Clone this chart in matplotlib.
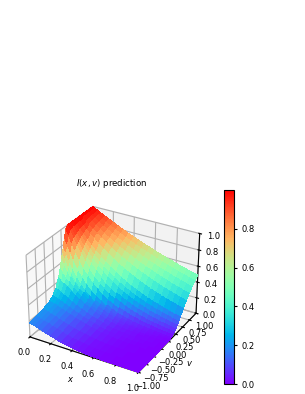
import numpy as np
import matplotlib
matplotlib.use('Agg')
import matplotlib.pyplot as plt

# values, grid is finer where the surface is steep
x = [0, .02, .05, .08, .12, .16, .2, .25, .3, .35, .4, .45, .5, .55, .6, .65, .7, .75, .8, .85, .9, .95, 1]
v = [-1, -.8, -.6, -.4, -.3, -.2, -.1, -.05, 0, .03, .06, .1, .15, .2, .25,
     .3, .35, .4, .5, .6, .7, .8, .9, 1]
I = [
    [.18, .175, .165, .15, .13, .115, .10, .08, .06, .045, .035, .025, .018, .012, .008, .006, .004, .003, .002, .001, .001, 0, 0],
    [.19, .185, .175, .16, .145, .125, .11, .09, .07, .055, .045, .033, .022, .016, .012, .009, .006, .004, .003, .002, .001, .001, 0],
    [.21, .205, .195, .18, .165, .145, .125, .105, .085, .07, .055, .044, .03, .024, .017, .013, .01, .007, .005, .003, .002, .001, 0],
    [.24, .235, .225, .21, .19, .17, .15, .125, .105, .085, .07, .055, .04, .032, .025, .019, .015, .011, .008, .006, .004, .002, .001],
    [.28, .27, .255, .24, .215, .19, .17, .145, .12, .10, .08, .06, .045, .036, .028, .022, .017, .013, .01, .007, .005, .003, .002],
    [.34, .325, .30, .28, .25, .22, .195, .165, .14, .115, .095, .075, .055, .043, .033, .026, .02, .015, .012, .009, .006, .004, .002],
    [.46, .43, .39, .355, .31, .27, .235, .195, .165, .135, .11, .085, .065, .052, .04, .032, .026, .02, .015, .011, .008, .005, .003],
    [.56, .52, .46, .41, .35, .30, .255, .21, .175, .145, .12, .095, .075, .06, .048, .038, .03, .024, .018, .012, .008, .006, .004],
    [.66, .60, .52, .46, .38, .32, .27, .23, .195, .165, .14, .11, .085, .07, .055, .045, .038, .03, .022, .016, .012, .008, .005],
    [.72, .66, .57, .50, .41, .345, .285, .235, .20, .175, .15, .12, .095, .075, .06, .05, .042, .034, .026, .02, .015, .01, .008],
    [.78, .72, .63, .55, .46, .385, .325, .26, .21, .18, .16, .13, .10, .08, .065, .055, .046, .038, .03, .024, .018, .013, .01],
    [.88, .81, .72, .64, .54, .46, .39, .32, .265, .215, .18, .145, .115, .095, .075, .062, .05, .042, .034, .028, .022, .016, .012],
    [.97, .905, .815, .735, .64, .555, .483, .405, .34, .285, .24, .20, .168, .14, .118, .10, .083, .07, .059, .048, .04, .034, .03],
    [1, .94, .858, .783, .693, .613, .542, .465, .399, .343, .294, .252, .217, .186, .159, .136, .117, .10, .086, .074, .064, .055, .047],
    [1, .948, .875, .81, .726, .652, .586, .512, .449, .393, .344, .30, .263, .23, .201, .176, .154, .135, .118, .103, .09, .079, .069],
    [1, .955, .89, .83, .757, .69, .63, .56, .50, .444, .395, .352, .313, .28, .249, .222, .197, .175, .156, .139, .124, .11, .098],
    [1, .960, .902, .848, .781, .719, .662, .597, .539, .486, .439, .395, .357, .322, .291, .262, .236, .213, .192, .173, .157, .141, .127],
    [1, .965, .914, .866, .806, .750, .698, .638, .583, .533, .487, .445, .407, .371, .340, .31, .284, .259, .237, .217, .198, .181, .165],
    [1, .972, .931, .891, .841, .794, .750, .698, .649, .604, .562, .523, .487, .453, .421, .392, .365, .34, .316, .294, .274, .255, .237],
    [1, .976, .942, .908, .866, .825, .787, .741, .698, .657, .619, .583, .549, .517, .487, .459, .432, .407, .383, .361, .340, .32, .301],
    [1, .980, .950, .921, .884, .848, .814, .773, .734, .698, .662, .629, .598, .568, .539, .512, .486, .462, .439, .417, .396, .376, .357],
    [1, .982, .956, .931, .898, .866, .835, .799, .763, .730, .698, .667, .638, .61, .583, .557, .533, .51, .487, .466, .445, .426, .407],
    [1, .984, .961, .938, .908, .880, .852, .819, .787, .756, .726, .698, .670, .644, .619, .595, .571, .549, .527, .507, .487, .468, .449],
    [1, .986, .965, .944, .917, .891, .866, .835, .806, .777, .750, .723, .698, .673, .649, .626, .604, .583, .562, .542, .523, .504, .487],
]
v_ticks = [-1, -.75, -.5, -.25, 0, .25, .5, .75, 1]

X, V = np.meshgrid(x, v)
Z = np.array(I)

fig = plt.figure(figsize=(3.05, 3.94), dpi=100)
ax = fig.add_axes([0.047, 0.024, 0.64, 0.49], projection='3d')
surf = ax.plot_surface(X, V, Z, cmap='rainbow', rstride=1, cstride=1,
                       linewidth=0, antialiased=False, vmin=0, vmax=1)
ax.set_xlim(0, 1)
ax.set_ylim(-1, 1)
ax.set_zlim(0, 1)
ax.set_yticks(v_ticks)
ax.set_yticklabels(['\u22121.00', '\u22120.75', '\u22120.50', '\u22120.25', '0.00', '0.25', '0.50', '0.75', '1.00'])
ax.set_xlabel('$x$', fontsize=6, labelpad=-8)
ax.set_ylabel('$v$', fontsize=6, labelpad=-7)
ax.set_title('$I(x,v)$ prediction', fontsize=6.2, y=1.0, pad=15)
ax.tick_params(labelsize=6, pad=-2, length=2)

cax = fig.add_axes([0.735, 0.025, 0.033, 0.493])
cb = fig.colorbar(surf, cax=cax, ticks=[0, 0.2, 0.4, 0.6, 0.8])
cb.ax.tick_params(labelsize=6, length=2)

fig.savefig('out.png', dpi=100)
